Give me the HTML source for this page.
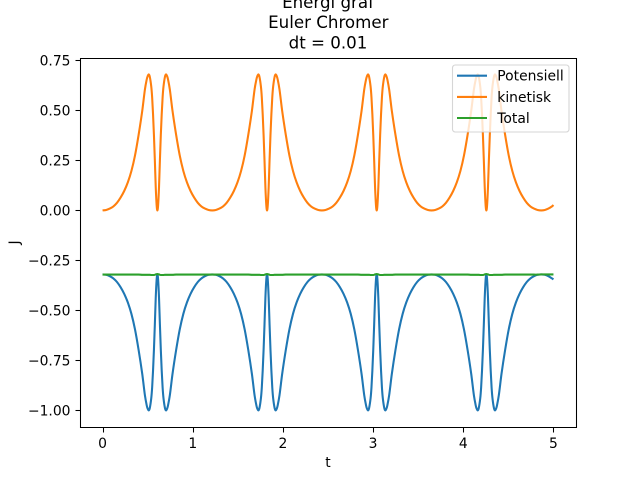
<!DOCTYPE html>
<html lang="en">
<head>
<meta charset="utf-8">
<title>Energi graf</title>
<style>
html,body{margin:0;padding:0;background:#fff;width:640px;height:480px;overflow:hidden}
svg{display:block}
text{font-family:"DejaVu Sans","Liberation Sans",sans-serif;fill:#000}
</style>
</head>
<body>
<svg id="chart" xmlns="http://www.w3.org/2000/svg" width="640" height="480" viewBox="0 0 640 480">
<rect x="0" y="0" width="640" height="480" fill="#fff"/>
<text x="328" y="8" font-size="16.67" text-anchor="middle">Energi graf</text>
<text x="328.3" y="28" font-size="16.67" text-anchor="middle">Euler Chromer</text>
<text x="328" y="48.5" font-size="16.67" text-anchor="middle">dt = 0.01</text>
<g id="series"></g>
<g id="ticks"></g>
<g stroke="#000" stroke-width="1.05">
<line x1="80.5" y1="58" x2="80.5" y2="428"/>
<line x1="576.5" y1="58" x2="576.5" y2="428"/>
<line x1="80" y1="58.5" x2="577" y2="58.5"/>
<line x1="80" y1="427.5" x2="577" y2="427.5"/>
</g>
<text x="328" y="467" font-size="13.89" text-anchor="middle">t</text>
<text x="0" y="0" font-size="13.89" text-anchor="middle" transform="translate(19,242.4) rotate(-90)">J</text>
<g>
<rect x="452.5" y="65" width="116.5" height="67" rx="2.8" ry="2.8" fill="#fff" fill-opacity="0.8" stroke="#ccc" stroke-opacity="0.8" stroke-width="1.1"/>
<line x1="457" y1="75.7" x2="487" y2="75.7" stroke="#1f77b4" stroke-width="2.08"/>
<text x="497.3" y="80.7" font-size="13.89" fill="#000">Potensiell</text>
<line x1="457" y1="96.9" x2="487" y2="96.9" stroke="#ff7f0e" stroke-width="2.08"/>
<text x="497.3" y="101.9" font-size="13.89" fill="#000">kinetisk</text>
<line x1="457" y1="118" x2="487" y2="118" stroke="#2ca02c" stroke-width="2.08"/>
<text x="497.3" y="123" font-size="13.89" fill="#000">Total</text>
</g>
</svg>
<script>
var timeValues = [
0,.04,.08,.12,.16,.2,.24,.28,.32,.36,.4,.44,.47,.49,.5,.512,.524,.54,.55,.56,.57,.58,.59,.6,.608,.616,.626,.636,.646,.656,.666,.676,.692,.704,.716,.726,.746,.776,.816,.856,.896,.936,.976,1.016,1.056,1.096,1.136,1.176,
1.216,1.256,1.296,1.336,1.376,1.416,1.456,1.496,1.536,1.576,1.616,1.656,1.686,1.706,1.716,1.728,1.74,1.756,1.766,1.776,1.786,1.796,1.806,1.816,1.824,1.832,1.842,1.852,1.862,1.872,1.882,1.892,1.908,1.92,1.932,1.942,1.962,1.992,2.032,2.072,2.112,2.152,2.192,2.232,2.272,2.312,2.352,2.392,
2.432,2.472,2.512,2.552,2.592,2.632,2.672,2.712,2.752,2.792,2.832,2.872,2.902,2.922,2.932,2.944,2.956,2.972,2.982,2.992,3.002,3.012,3.022,3.032,3.04,3.048,3.058,3.068,3.078,3.088,3.098,3.108,3.124,3.136,3.148,3.158,3.178,3.208,3.248,3.288,3.328,3.368,3.408,3.448,3.488,3.528,3.568,3.608,
3.648,3.688,3.728,3.768,3.808,3.848,3.888,3.928,3.968,4.008,4.048,4.088,4.118,4.138,4.148,4.16,4.172,4.188,4.198,4.208,4.218,4.228,4.238,4.248,4.256,4.264,4.274,4.284,4.294,4.304,4.314,4.324,4.34,4.352,4.364,4.374,4.394,4.424,4.464,4.504,4.544,4.584,4.624,4.664,4.704,4.744,4.784,4.824,
4.864,4.904,4.944,4.984,5
];
var potensiellValues = [
-.32,-.322,-.329,-.34,-.358,-.384,-.417,-.46,-.517,-.595,-.698,-.817,-.925,-.975,-.991,-1,-.988,-.94,-.885,-.8,-.695,-.57,-.435,-.345,-.32,-.345,-.435,-.57,-.695,-.8,-.885,-.94,-.988,-1,-.991,-.975,-.925,-.817,-.698,-.595,-.517,-.46,-.417,-.384,-.358,-.34,-.329,-.322,
-.32,-.322,-.329,-.34,-.358,-.384,-.417,-.46,-.517,-.595,-.698,-.817,-.925,-.975,-.991,-1,-.988,-.94,-.885,-.8,-.695,-.57,-.435,-.345,-.32,-.345,-.435,-.57,-.695,-.8,-.885,-.94,-.988,-1,-.991,-.975,-.925,-.817,-.698,-.595,-.517,-.46,-.417,-.384,-.358,-.34,-.329,-.322,
-.32,-.322,-.329,-.34,-.358,-.384,-.417,-.46,-.517,-.595,-.698,-.817,-.925,-.975,-.991,-1,-.988,-.94,-.885,-.8,-.695,-.57,-.435,-.345,-.32,-.345,-.435,-.57,-.695,-.8,-.885,-.94,-.988,-1,-.991,-.975,-.925,-.817,-.698,-.595,-.517,-.46,-.417,-.384,-.358,-.34,-.329,-.322,
-.32,-.322,-.329,-.34,-.358,-.384,-.417,-.46,-.517,-.595,-.698,-.817,-.925,-.975,-.991,-1,-.988,-.94,-.885,-.8,-.695,-.57,-.435,-.345,-.32,-.345,-.435,-.57,-.695,-.8,-.885,-.94,-.988,-1,-.991,-.975,-.925,-.817,-.698,-.595,-.517,-.46,-.417,-.384,-.358,-.34,-.329,-.322,
-.32,-.322,-.329,-.34,-.345
];
var kinetiskValues = [
0,.002,.009,.02,.038,.064,.097,.14,.197,.275,.378,.497,.605,.655,.671,.68,.668,.62,.565,.48,.375,.25,.115,.025,0,.025,.115,.25,.375,.48,.565,.62,.668,.68,.671,.655,.605,.497,.378,.275,.197,.14,.097,.064,.038,.02,.009,.002,
0,.002,.009,.02,.038,.064,.097,.14,.197,.275,.378,.497,.605,.655,.671,.68,.668,.62,.565,.48,.375,.25,.115,.025,0,.025,.115,.25,.375,.48,.565,.62,.668,.68,.671,.655,.605,.497,.378,.275,.197,.14,.097,.064,.038,.02,.009,.002,
0,.002,.009,.02,.038,.064,.097,.14,.197,.275,.378,.497,.605,.655,.671,.68,.668,.62,.565,.48,.375,.25,.115,.025,0,.025,.115,.25,.375,.48,.565,.62,.668,.68,.671,.655,.605,.497,.378,.275,.197,.14,.097,.064,.038,.02,.009,.002,
0,.002,.009,.02,.038,.064,.097,.14,.197,.275,.378,.497,.605,.655,.671,.68,.668,.62,.565,.48,.375,.25,.115,.025,0,.025,.115,.25,.375,.48,.565,.62,.668,.68,.671,.655,.605,.497,.378,.275,.197,.14,.097,.064,.038,.02,.009,.002,
0,.002,.009,.02,.027
];
var totalValues = [
-.321,-.321,-.321,-.321,-.321,-.321,-.321,-.321,-.321,-.321,-.321,-.322,-.322,-.322,-.322,-.322,-.322,-.323,-.323,-.323,-.323,-.322,-.32,-.319,-.318,-.319,-.32,-.322,-.323,-.323,-.323,-.323,-.322,-.322,-.322,-.322,-.322,-.322,-.321,-.321,-.321,-.321,-.321,-.321,-.321,-.321,-.321,-.321,
-.321,-.321,-.321,-.321,-.321,-.321,-.321,-.321,-.321,-.321,-.321,-.322,-.322,-.322,-.322,-.322,-.322,-.323,-.323,-.323,-.323,-.322,-.32,-.319,-.318,-.319,-.32,-.322,-.323,-.323,-.323,-.323,-.322,-.322,-.322,-.322,-.322,-.322,-.321,-.321,-.321,-.321,-.321,-.321,-.321,-.321,-.321,-.321,
-.321,-.321,-.321,-.321,-.321,-.321,-.321,-.321,-.321,-.321,-.321,-.322,-.322,-.322,-.322,-.322,-.322,-.323,-.323,-.323,-.323,-.322,-.32,-.319,-.318,-.319,-.32,-.322,-.323,-.323,-.323,-.323,-.322,-.322,-.322,-.322,-.322,-.322,-.321,-.321,-.321,-.321,-.321,-.321,-.321,-.321,-.321,-.321,
-.321,-.321,-.321,-.321,-.321,-.321,-.321,-.321,-.321,-.321,-.321,-.322,-.322,-.322,-.322,-.322,-.322,-.323,-.323,-.323,-.323,-.322,-.32,-.319,-.318,-.319,-.32,-.322,-.323,-.323,-.323,-.323,-.322,-.322,-.322,-.322,-.322,-.322,-.321,-.321,-.321,-.321,-.321,-.321,-.321,-.321,-.321,-.321,
-.32,-.32,-.32,-.32,-.32
];
var xTickValues = [0,1,2,3,4,5];
var xTickLabels = ["0","1","2","3","4","5"];
var yTickValues = [.75,.5,.25,0,-.25,-.5,-.75,-1];
var yTickLabels = ["0.75","0.50","0.25","0.00","\u22120.25","\u22120.50","\u22120.75","\u22121.00"];

var NS = "http://www.w3.org/2000/svg";
function xScale(v){ return 80 + (v + 0.25) * 496 / 5.5; }
function yScale(v){ return 57.6 + (0.764 - v) * 200; }
function snapX(p){ return Math.floor(p + 0.5) + 0.5; }
function snapY(p){ return Math.floor(p) + 0.5; }

var seriesGroup = document.getElementById("series");
var ticksGroup = document.getElementById("ticks");

function drawSeries(values, color, name){
  var n = timeValues.length;
  var xs = timeValues.map(xScale);
  var ys = values.map(yScale);
  var slopes = [];
  for (var i = 0; i < n; i++) {
    var a = Math.max(i - 1, 0);
    var b = Math.min(i + 1, n - 1);
    slopes.push((ys[b] - ys[a]) / (xs[b] - xs[a]));
  }
  var d = "M" + xs[0].toFixed(2) + " " + ys[0].toFixed(2);
  for (var j = 0; j < n - 1; j++) {
    var h = xs[j + 1] - xs[j];
    d += "C" + (xs[j] + h / 3).toFixed(2) + " " + (ys[j] + slopes[j] * h / 3).toFixed(2) +
         " " + (xs[j + 1] - h / 3).toFixed(2) + " " + (ys[j + 1] - slopes[j + 1] * h / 3).toFixed(2) +
         " " + xs[j + 1].toFixed(2) + " " + ys[j + 1].toFixed(2);
  }
  var line = document.createElementNS(NS, "path");
  
  
  line.setAttribute("d", d);
  line.setAttribute("fill", "none");
  line.setAttribute("stroke", color);
  line.setAttribute("stroke-width", "2.08");
  line.setAttribute("stroke-linejoin", "round");
  seriesGroup.appendChild(line);
}
drawSeries(potensiellValues, "#1f77b4", "series-potensiell");
drawSeries(kinetiskValues, "#ff7f0e", "series-kinetisk");
drawSeries(totalValues, "#2ca02c", "series-total");

xTickValues.forEach(function(v, i){
  var px = snapX(xScale(v));
  var mark = document.createElementNS(NS, "line");
  
  
  mark.setAttribute("x1", px);
  mark.setAttribute("x2", px);
  mark.setAttribute("y1", 428);
  mark.setAttribute("y2", 432.5);
  mark.setAttribute("stroke", "#000");
  mark.setAttribute("stroke-width", "1.05");
  ticksGroup.appendChild(mark);
  var label = document.createElementNS(NS, "text");
  
  
  label.setAttribute("x", xScale(v));
  label.setAttribute("y", 448);
  label.setAttribute("font-size", "13.89");
  label.setAttribute("text-anchor", "middle");
  label.textContent = xTickLabels[i];
  ticksGroup.appendChild(label);
});

yTickValues.forEach(function(v, i){
  var py = snapY(yScale(v));
  var mark = document.createElementNS(NS, "line");
  
  
  mark.setAttribute("x1", 75.5);
  mark.setAttribute("x2", 80);
  mark.setAttribute("y1", py);
  mark.setAttribute("y2", py);
  mark.setAttribute("stroke", "#000");
  mark.setAttribute("stroke-width", "1.05");
  ticksGroup.appendChild(mark);
  var label = document.createElementNS(NS, "text");
  
  
  label.setAttribute("x", 70.5);
  label.setAttribute("y", yScale(v) + 5.2);
  label.setAttribute("font-size", "13.89");
  label.setAttribute("text-anchor", "end");
  label.textContent = yTickLabels[i];
  ticksGroup.appendChild(label);
});
</script>
</body>
</html>
